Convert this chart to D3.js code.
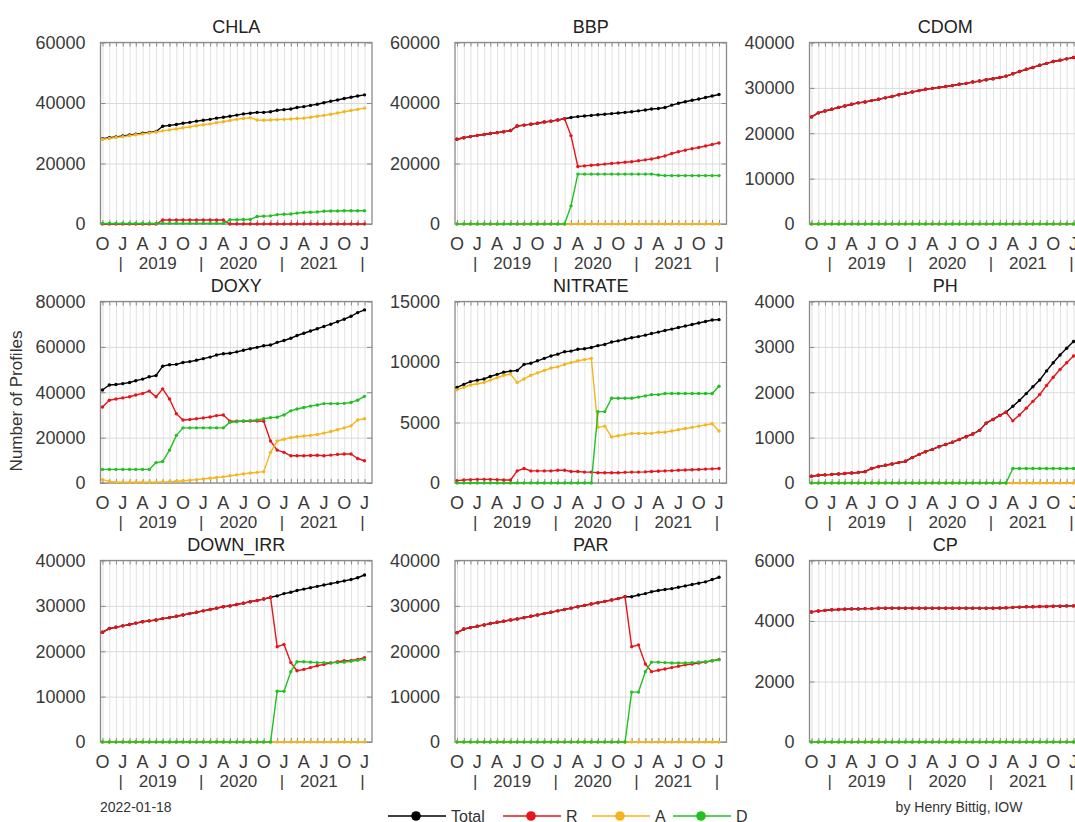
<!DOCTYPE html>
<html>
<head>
<meta charset="utf-8">
<script src="https://cdn.jsdelivr.net/npm/d3@7"></script>
<style>
  body { margin: 0; background: #fff; }
  text { font-family: "Liberation Sans", Arial, Helvetica, sans-serif; }
</style>
</head>
<body>
<div id="chart"></div>
<script>
// monthly counts of profiles, Oct 2018 .. Jan 2022
var months = ["2018-10", "2018-11", "2018-12",
  "2019-01", "2019-02", "2019-03", "2019-04", "2019-05", "2019-06", "2019-07", "2019-08", "2019-09", "2019-10", "2019-11", "2019-12",
  "2020-01", "2020-02", "2020-03", "2020-04", "2020-05", "2020-06", "2020-07", "2020-08", "2020-09", "2020-10", "2020-11", "2020-12",
  "2021-01", "2021-02", "2021-03", "2021-04", "2021-05", "2021-06", "2021-07", "2021-08", "2021-09", "2021-10", "2021-11", "2021-12",
  "2022-01"];

var tickMonths = ["2018-10", "2019-01", "2019-04", "2019-07", "2019-10", "2020-01", "2020-04", "2020-07", "2020-10", "2021-01", "2021-04", "2021-07", "2021-10", "2022-01"];
var tickLetters = ["O", "J", "A", "J", "O", "J", "A", "J", "O", "J", "A", "J", "O", "J"];
var yearBars = ["2019-01", "2020-01", "2021-01", "2022-01"];
var yearCenters = ["2019-07", "2020-07", "2021-07"];
var yearLabels = ["2019", "2020", "2021"];

var seriesNames = ["Total", "R", "A", "D"];
var seriesColors = ["#000000", "#e4161c", "#f6b51c", "#22c022"];

var panelTitles = ["CHLA", "BBP", "CDOM", "DOXY", "NITRATE", "PH", "DOWN_IRR", "PAR", "CP"];
var panelMax = [60000, 60000, 40000, 80000, 15000, 4000, 40000, 40000, 6000];
var panelStep = [20000, 20000, 10000, 20000, 5000, 1000, 10000, 10000, 2000];

var chlaTotal = [28200, 28500, 28800, 29100, 29400, 29700, 30000, 30300, 30600, 32300, 32600, 32900, 33300, 33600, 34000, 34300, 34600, 35000, 35300, 35600, 36000, 36400, 36600, 36900, 36900, 37100, 37600, 37800, 38000, 38500, 38800, 39200, 39600, 40100, 40600, 41000, 41500, 41900, 42300, 42700];
var chlaR = [0, 0, 0, 0, 0, 0, 0, 0, 0, 1300, 1300, 1300, 1300, 1300, 1300, 1300, 1300, 1300, 1300, 0, 0, 0, 0, 0, 0, 0, 0, 0, 0, 0, 0, 0, 0, 0, 0, 0, 0, 0, 0, 0];
var chlaA = [28000, 28300, 28600, 28900, 29200, 29500, 29800, 30100, 30400, 30800, 31100, 31400, 31800, 32100, 32500, 32800, 33100, 33500, 33800, 34200, 34600, 34900, 35100, 34400, 34300, 34400, 34500, 34600, 34700, 34900, 35000, 35300, 35600, 35900, 36300, 36700, 37100, 37500, 37900, 38300];
var chlaD = [200, 200, 200, 200, 200, 200, 200, 200, 200, 200, 200, 200, 200, 200, 200, 200, 200, 200, 200, 1400, 1400, 1500, 1500, 2500, 2600, 2700, 3100, 3200, 3300, 3600, 3800, 3900, 4000, 4200, 4300, 4300, 4400, 4400, 4400, 4400];

var bbpTotal = [28000, 28500, 28900, 29300, 29600, 29900, 30200, 30500, 30900, 32400, 32700, 33000, 33300, 33700, 34000, 34400, 34800, 35200, 35500, 35700, 35900, 36100, 36300, 36500, 36700, 36900, 37100, 37400, 37700, 38000, 38200, 38500, 39300, 39900, 40400, 40900, 41300, 41800, 42300, 42800];
var bbpR = [28000, 28500, 28900, 29300, 29600, 29900, 30200, 30500, 30900, 32400, 32700, 33000, 33300, 33700, 34000, 34400, 34800, 29200, 19000, 19200, 19400, 19600, 19800, 20000, 20200, 20400, 20600, 20900, 21200, 21500, 22000, 22500, 23300, 23900, 24400, 24900, 25300, 25800, 26300, 26800];
var bbpA = [0, 0, 0, 0, 0, 0, 0, 0, 0, 0, 0, 0, 0, 0, 0, 0, 0, 0, 0, 0, 0, 0, 0, 0, 0, 0, 0, 0, 0, 0, 0, 0, 0, 0, 0, 0, 0, 0, 0, 0];
var bbpD = [0, 0, 0, 0, 0, 0, 0, 0, 0, 0, 0, 0, 0, 0, 0, 0, 0, 6000, 16500, 16500, 16500, 16500, 16500, 16500, 16500, 16500, 16500, 16500, 16500, 16500, 16200, 16000, 16000, 16000, 16000, 16000, 16000, 16000, 16000, 16000];

var cdomTotal = [23600, 24500, 24900, 25300, 25700, 26000, 26400, 26700, 26900, 27200, 27500, 27800, 28100, 28500, 28800, 29100, 29400, 29700, 29900, 30100, 30300, 30500, 30800, 31000, 31300, 31500, 31800, 32000, 32300, 32600, 33100, 33600, 34100, 34500, 35000, 35400, 35800, 36100, 36400, 36700];
var cdomR = [23600, 24500, 24900, 25300, 25700, 26000, 26400, 26700, 26900, 27200, 27500, 27800, 28100, 28500, 28800, 29100, 29400, 29700, 29900, 30100, 30300, 30500, 30800, 31000, 31300, 31500, 31800, 32000, 32300, 32600, 33100, 33600, 34100, 34500, 35000, 35400, 35800, 36100, 36400, 36700];
var cdomA = [0, 0, 0, 0, 0, 0, 0, 0, 0, 0, 0, 0, 0, 0, 0, 0, 0, 0, 0, 0, 0, 0, 0, 0, 0, 0, 0, 0, 0, 0, 0, 0, 0, 0, 0, 0, 0, 0, 0, 0];
var cdomD = [0, 0, 0, 0, 0, 0, 0, 0, 0, 0, 0, 0, 0, 0, 0, 0, 0, 0, 0, 0, 0, 0, 0, 0, 0, 0, 0, 0, 0, 0, 0, 0, 0, 0, 0, 0, 0, 0, 0, 0];

var doxyTotal = [41000, 43200, 43400, 43800, 44300, 45100, 45800, 46800, 47400, 51500, 52100, 52300, 53100, 53500, 54100, 54800, 55500, 56400, 57000, 57200, 57800, 58500, 59200, 59800, 60500, 60800, 62000, 62800, 63800, 65000, 66000, 67000, 68000, 69000, 70000, 71100, 72200, 73500, 75100, 76300];
var doxyR = [33500, 36500, 37000, 37500, 38000, 38800, 39500, 40500, 38000, 41500, 37000, 30500, 27800, 28000, 28300, 28700, 29100, 29700, 30000, 27200, 27200, 27200, 27300, 27300, 27200, 18500, 14500, 13500, 12000, 12000, 12000, 12100, 12200, 12000, 12300, 12600, 12800, 12800, 10800, 9800];
var doxyA = [1500, 700, 400, 300, 300, 300, 300, 300, 400, 500, 600, 800, 1000, 1200, 1500, 1800, 2100, 2400, 2700, 3200, 3600, 4000, 4400, 4700, 5000, 13500, 18500, 19300, 20000, 20400, 20700, 21000, 21400, 22000, 22700, 23500, 24300, 25200, 27800, 28300];
var doxyD = [6000, 6000, 6000, 6000, 6000, 6000, 6000, 6000, 9000, 9500, 14500, 21000, 24300, 24300, 24300, 24300, 24300, 24300, 24300, 26800, 27000, 27300, 27500, 27800, 28300, 28800, 29000, 30000, 31800, 32600, 33300, 33900, 34400, 35000, 35000, 35000, 35100, 35500, 36500, 38200];

var nitrateTotal = [7900, 8150, 8380, 8500, 8600, 8800, 8980, 9150, 9250, 9300, 9800, 9900, 10100, 10300, 10500, 10650, 10850, 10900, 11050, 11100, 11200, 11350, 11450, 11650, 11750, 11880, 12000, 12100, 12220, 12350, 12470, 12600, 12720, 12850, 12970, 13100, 13220, 13350, 13470, 13500];
var nitrateR = [200, 250, 280, 300, 300, 300, 280, 250, 250, 1000, 1200, 1000, 1000, 1000, 1000, 1050, 1050, 950, 950, 900, 900, 850, 850, 850, 850, 880, 900, 900, 920, 950, 970, 1000, 1020, 1050, 1070, 1100, 1120, 1150, 1170, 1200];
var nitrateA = [7700, 7900, 8100, 8200, 8300, 8500, 8700, 8900, 9000, 8300, 8600, 8900, 9100, 9300, 9500, 9600, 9800, 9950, 10100, 10200, 10300, 4600, 4700, 3800, 3900, 4000, 4100, 4100, 4100, 4100, 4200, 4200, 4300, 4400, 4500, 4600, 4700, 4800, 4900, 4300];
var nitrateD = [0, 0, 0, 0, 0, 0, 0, 0, 0, 0, 0, 0, 0, 0, 0, 0, 0, 0, 0, 0, 0, 5900, 5900, 7000, 7000, 7000, 7000, 7100, 7200, 7300, 7300, 7400, 7400, 7400, 7400, 7400, 7400, 7400, 7400, 8000];

var phTotal = [150, 170, 180, 190, 200, 210, 220, 230, 250, 320, 360, 390, 420, 450, 480, 560, 630, 690, 740, 800, 850, 900, 960, 1020, 1080, 1160, 1320, 1400, 1490, 1560, 1690, 1820, 1970, 2120, 2270, 2470, 2650, 2820, 2970, 3120];
var phR = [150, 170, 180, 190, 200, 210, 220, 230, 250, 320, 360, 390, 420, 450, 480, 560, 630, 690, 740, 800, 850, 900, 960, 1020, 1080, 1160, 1320, 1400, 1490, 1560, 1370, 1500, 1650, 1800, 1950, 2150, 2330, 2500, 2650, 2800];
var phA = [0, 0, 0, 0, 0, 0, 0, 0, 0, 0, 0, 0, 0, 0, 0, 0, 0, 0, 0, 0, 0, 0, 0, 0, 0, 0, 0, 0, 0, 0, 0, 0, 0, 0, 0, 0, 0, 0, 0, 0];
var phD = [0, 0, 0, 0, 0, 0, 0, 0, 0, 0, 0, 0, 0, 0, 0, 0, 0, 0, 0, 0, 0, 0, 0, 0, 0, 0, 0, 0, 0, 0, 320, 320, 320, 320, 320, 320, 320, 320, 320, 320];

var downIrrTotal = [24200, 25000, 25300, 25600, 25900, 26200, 26500, 26700, 26900, 27200, 27400, 27700, 28000, 28300, 28600, 28900, 29200, 29500, 29800, 30000, 30300, 30600, 30900, 31200, 31500, 31900, 32200, 32700, 33000, 33400, 33700, 34000, 34300, 34600, 34900, 35200, 35500, 35800, 36200, 36800];
var downIrrR = [24200, 25000, 25300, 25600, 25900, 26200, 26500, 26700, 26900, 27200, 27400, 27700, 28000, 28300, 28600, 28900, 29200, 29500, 29800, 30000, 30300, 30600, 30900, 31200, 31500, 31900, 21000, 21500, 17500, 15700, 16000, 16400, 16800, 17100, 17400, 17700, 17900, 18000, 18200, 18600];
var downIrrA = [0, 0, 0, 0, 0, 0, 0, 0, 0, 0, 0, 0, 0, 0, 0, 0, 0, 0, 0, 0, 0, 0, 0, 0, 0, 0, 0, 0, 0, 0, 0, 0, 0, 0, 0, 0, 0, 0, 0, 0];
var downIrrD = [0, 0, 0, 0, 0, 0, 0, 0, 0, 0, 0, 0, 0, 0, 0, 0, 0, 0, 0, 0, 0, 0, 0, 0, 0, 0, 11200, 11200, 15500, 17700, 17700, 17600, 17500, 17500, 17500, 17500, 17600, 17800, 18000, 18200];

var parTotal = [24100, 24900, 25200, 25500, 25800, 26100, 26400, 26600, 26900, 27100, 27400, 27700, 28000, 28300, 28600, 28900, 29200, 29500, 29800, 30100, 30400, 30700, 31000, 31300, 31600, 32000, 32000, 32400, 32700, 33100, 33400, 33600, 33800, 34100, 34400, 34700, 35000, 35300, 35800, 36300];
var parR = [24100, 24900, 25200, 25500, 25800, 26100, 26400, 26600, 26900, 27100, 27400, 27700, 28000, 28300, 28600, 28900, 29200, 29500, 29800, 30100, 30400, 30700, 31000, 31300, 31600, 32000, 21000, 21400, 17200, 15500, 15800, 16100, 16400, 16700, 17000, 17200, 17400, 17600, 17900, 18200];
var parA = [0, 0, 0, 0, 0, 0, 0, 0, 0, 0, 0, 0, 0, 0, 0, 0, 0, 0, 0, 0, 0, 0, 0, 0, 0, 0, 0, 0, 0, 0, 0, 0, 0, 0, 0, 0, 0, 0, 0, 0];
var parD = [0, 0, 0, 0, 0, 0, 0, 0, 0, 0, 0, 0, 0, 0, 0, 0, 0, 0, 0, 0, 0, 0, 0, 0, 0, 0, 11000, 11000, 15500, 17600, 17600, 17500, 17400, 17400, 17400, 17500, 17600, 17700, 17900, 18100];

var cpTotal = [4300, 4330, 4350, 4370, 4380, 4390, 4400, 4400, 4410, 4410, 4420, 4420, 4420, 4420, 4420, 4420, 4420, 4420, 4420, 4420, 4420, 4420, 4420, 4420, 4420, 4420, 4420, 4420, 4430, 4440, 4450, 4460, 4470, 4470, 4480, 4480, 4490, 4490, 4500, 4500];
var cpR = [4300, 4330, 4350, 4370, 4380, 4390, 4400, 4400, 4410, 4410, 4420, 4420, 4420, 4420, 4420, 4420, 4420, 4420, 4420, 4420, 4420, 4420, 4420, 4420, 4420, 4420, 4420, 4420, 4430, 4440, 4450, 4460, 4470, 4470, 4480, 4480, 4490, 4490, 4500, 4500];
var cpA = [0, 0, 0, 0, 0, 0, 0, 0, 0, 0, 0, 0, 0, 0, 0, 0, 0, 0, 0, 0, 0, 0, 0, 0, 0, 0, 0, 0, 0, 0, 0, 0, 0, 0, 0, 0, 0, 0, 0, 0];
var cpD = [0, 0, 0, 0, 0, 0, 0, 0, 0, 0, 0, 0, 0, 0, 0, 0, 0, 0, 0, 0, 0, 0, 0, 0, 0, 0, 0, 0, 0, 0, 0, 0, 0, 0, 0, 0, 0, 0, 0, 0];

var panelSeries = [
  [chlaTotal, chlaR, chlaA, chlaD],
  [bbpTotal, bbpR, bbpA, bbpD],
  [cdomTotal, cdomR, cdomA, cdomD],
  [doxyTotal, doxyR, doxyA, doxyD],
  [nitrateTotal, nitrateR, nitrateA, nitrateD],
  [phTotal, phR, phA, phD],
  [downIrrTotal, downIrrR, downIrrA, downIrrD],
  [parTotal, parR, parA, parD],
  [cpTotal, cpR, cpA, cpD]
];

var parseMonth = d3.timeParse("%Y-%m");
var monthDates = months.map(parseMonth);

var svgWidth = 1075;
var svgHeight = 822;
var colX = [100.5, 455, 809.5];
var rowY = [42.5, 301.5, 560.5];
var pw = 271.5, ph = 181.5;
var fontFam = '"Liberation Sans", Arial, Helvetica, sans-serif';

var svg = d3.select("#chart")
  .append("svg")
  .attr("width", svgWidth)
  .attr("height", svgHeight)
  .style("display", "block");

var xScale = d3.scaleTime()
  .domain([new Date(2018, 8, 22), new Date(2022, 1, 4)])
  .range([0, pw]);

panelTitles.forEach(function (title, k) {
  var g = svg.append("g")
    .attr("transform", "translate(" + colX[k % 3] + "," + rowY[Math.floor(k / 3)] + ")");

  var yScale = d3.scaleLinear().domain([0, panelMax[k]]).range([ph, 0]);
  var yTicks = d3.range(0, panelMax[k] + 1, panelStep[k]);

  // month grid
  var xGrid = g.append("g")
    .attr("transform", "translate(0," + ph + ")")
    .call(d3.axisBottom(xScale).tickValues(monthDates).tickSize(-ph).tickFormat(""));
  xGrid.select(".domain").remove();
  xGrid.selectAll("line").attr("stroke", "#e2e2e2").attr("stroke-width", 1);

  // value grid + labels
  var yAxis = g.append("g")
    .call(d3.axisLeft(yScale).tickValues(yTicks).tickSize(-pw).tickPadding(15).tickFormat(d3.format("d")));
  yAxis.select(".domain").remove();
  yAxis.selectAll("line").attr("stroke", "#dadada").attr("stroke-width", 1);
  yAxis.selectAll("text")
    .attr("font-family", fontFam)
    .attr("font-size", 18)
    .attr("fill", "#3a3a3a");

  // small inward ticks on the frame
  var tTop = g.append("g").call(d3.axisTop(xScale).tickValues(monthDates).tickSize(-4).tickFormat(""));
  var tBot = g.append("g").attr("transform", "translate(0," + ph + ")")
    .call(d3.axisBottom(xScale).tickValues(monthDates).tickSize(-4).tickFormat(""));
  var tLeft = g.append("g").call(d3.axisLeft(yScale).tickValues(yTicks).tickSize(-5).tickFormat(""));
  var tRight = g.append("g").attr("transform", "translate(" + pw + ",0)")
    .call(d3.axisRight(yScale).tickValues(yTicks).tickSize(-5).tickFormat(""));
  [tTop, tBot, tLeft, tRight].forEach(function (a) {
    a.select(".domain").remove();
    a.selectAll("line").attr("stroke", "#8a8a8a").attr("stroke-width", 1);
  });

  g.append("rect")
    .attr("width", pw)
    .attr("height", ph)
    .attr("fill", "none")
    .attr("stroke", "#8a8a8a")
    .attr("stroke-width", 1.3);

  // month letters
  g.append("g").selectAll("text")
    .data(tickMonths)
    .join("text")
    .attr("x", function (d) { return xScale(parseMonth(d)); })
    .attr("y", ph + 25.5)
    .attr("text-anchor", "middle")
    .attr("font-family", fontFam)
    .attr("font-size", 18)
    .attr("fill", "#3a3a3a")
    .text(function (d, i) { return tickLetters[i]; });

  // year separators and labels
  g.append("g").selectAll("text")
    .data(yearBars)
    .join("text")
    .attr("x", function (d) { return xScale(parseMonth(d)) - 2; })
    .attr("y", ph + 45)
    .attr("text-anchor", "middle")
    .attr("font-family", fontFam)
    .attr("font-size", 17)
    .attr("fill", "#3a3a3a")
    .text("|");

  g.append("g").selectAll("text")
    .data(yearCenters)
    .join("text")
    .attr("x", function (d) { return xScale(parseMonth(d)) - 5; })
    .attr("y", ph + 45)
    .attr("text-anchor", "middle")
    .attr("font-family", fontFam)
    .attr("font-size", 17)
    .attr("fill", "#3a3a3a")
    .text(function (d, i) { return yearLabels[i]; });

  g.append("text")
    .attr("x", pw / 2)
    .attr("y", -9.5)
    .attr("text-anchor", "middle")
    .attr("font-family", fontFam)
    .attr("font-size", 18)
    .attr("fill", "#222")
    .text(title);

  // series: Total first, then R, A, D on top
  var line = d3.line()
    .x(function (d) { return xScale(d.date); })
    .y(function (d) { return yScale(d.v); });

  panelSeries[k].forEach(function (vals, s) {
    var pts = vals.map(function (v, i) { return { date: monthDates[i], v: v }; });
    g.append("path")
      .datum(pts)
      .attr("fill", "none")
      .attr("stroke", seriesColors[s])
      .attr("stroke-width", 1.4)
      .attr("stroke-linejoin", "round")
      .attr("d", line);
    g.append("g").selectAll("circle")
      .data(pts)
      .join("circle")
      .attr("cx", function (d) { return xScale(d.date); })
      .attr("cy", function (d) { return yScale(d.v); })
      .attr("r", 1.7)
      .attr("fill", seriesColors[s]);
  });
});

// y label
svg.append("text")
  .attr("transform", "translate(22,401) rotate(-90)")
  .attr("text-anchor", "middle")
  .attr("font-family", fontFam)
  .attr("font-size", 17)
  .attr("fill", "#333")
  .text("Number of Profiles");

// legend
var legendX = [388, 503, 592, 673];
var legendY = 816;
var legend = svg.append("g");
seriesNames.forEach(function (name, s) {
  var lx = legendX[s];
  legend.append("line")
    .attr("x1", lx).attr("x2", lx + 58)
    .attr("y1", legendY).attr("y2", legendY)
    .attr("stroke", seriesColors[s])
    .attr("stroke-width", 1.5);
  legend.append("circle")
    .attr("cx", lx + 28).attr("cy", legendY)
    .attr("r", 4.8)
    .attr("fill", seriesColors[s]);
  legend.append("text")
    .attr("x", lx + 63)
    .attr("y", legendY + 6)
    .attr("font-family", fontFam)
    .attr("font-size", 16)
    .attr("fill", "#333")
    .text(name);
});

svg.append("text")
  .attr("x", 100)
  .attr("y", 812)
  .attr("font-family", fontFam)
  .attr("font-size", 14)
  .attr("fill", "#333")
  .text("2022-01-18");

svg.append("text")
  .attr("x", 959)
  .attr("y", 812)
  .attr("text-anchor", "middle")
  .attr("font-family", fontFam)
  .attr("font-size", 14)
  .attr("fill", "#333")
  .text("by Henry Bittig, IOW");
</script>
</body>
</html>
